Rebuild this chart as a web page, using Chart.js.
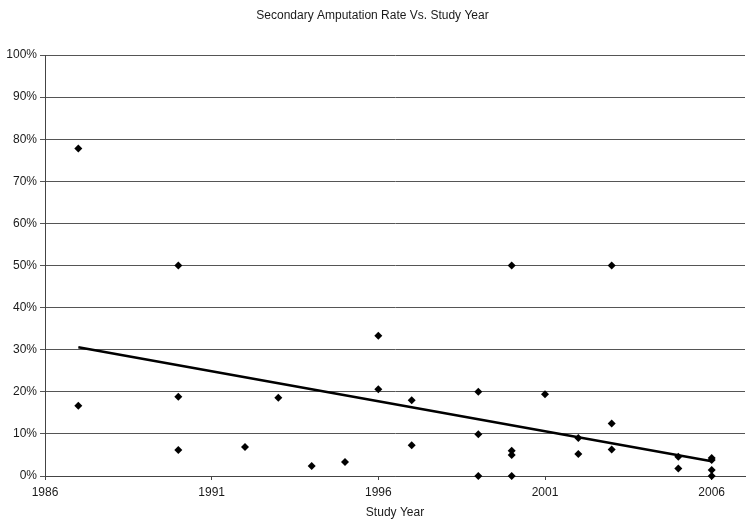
<!DOCTYPE html>
<html>
<head>
<meta charset="utf-8">
<script src="https://cdn.jsdelivr.net/npm/chart.js@4/dist/chart.umd.min.js"></script>
<style>
  html, body { margin: 0; padding: 0; background: #fff; }
  #wrap { width: 755px; height: 522px; }
</style>
</head>
<body>
<div id="wrap"><canvas id="c" width="755" height="522"></canvas></div>
<script>
// Study data: year and secondary amputation rate (%)
const studyYears = [1987, 1987, 1990, 1990, 1990, 1992, 1993, 1994, 1995, 1996, 1996,
                    1997, 1997, 1999, 1999, 1999, 2000, 2000, 2000, 2000, 2001,
                    2002, 2002, 2003, 2003, 2003, 2005, 2005, 2006, 2006, 2006, 2006];
const amputationRates = [77.8, 16.7, 50.0, 18.8, 6.2, 6.9, 18.6, 2.4, 3.3, 33.3, 20.6,
                         18.0, 7.3, 20.0, 9.9, 0.0, 50.0, 6.0, 5.0, 0.0, 19.4,
                         9.0, 5.2, 50.0, 12.5, 6.3, 4.6, 1.8, 4.3, 3.8, 1.4, 0.0];
// Linear trend line endpoints
const trendYears = [1987, 2006];
const trendRates = [30.6, 3.5];
// Axis ticks
const xTickValues = [1986, 1991, 1996, 2001, 2006];
const yTickValues = [0, 10, 20, 30, 40, 50, 60, 70, 80, 90, 100];

const points = studyYears.map((y, i) => ({ x: y, y: amputationRates[i] }));
const trend = trendYears.map((y, i) => ({ x: y, y: trendRates[i] }));

const FONT = "'Liberation Sans', Arial, Helvetica, sans-serif";
const TXT = '#1a1a1a';

new Chart(document.getElementById('c'), {
  type: 'scatter',
  data: {
    datasets: [
      {
        label: 'Rate',
        data: points,
        pointStyle: 'rectRot',
        pointRadius: 4,
        pointBackgroundColor: '#000',
        pointBorderColor: '#000',
        pointBorderWidth: 0,
        showLine: false,
        clip: false,
        order: 1
      },
      {
        label: 'Trend',
        data: trend,
        type: 'line',
        showLine: true,
        borderColor: '#000',
        borderWidth: 2.5,
        pointRadius: 0,
        fill: false,
        clip: false,
        order: 2
      }
    ]
  },
  options: {
    responsive: false,
    animation: false,
    devicePixelRatio: 1,
    layout: { padding: { left: 0, right: 10, top: 0, bottom: 0 } },
    plugins: {
      legend: { display: false },
      tooltip: { enabled: false },
      title: {
        display: true,
        text: 'Secondary Amputation Rate Vs. Study Year',
        color: TXT,
        font: { family: FONT, size: 12, weight: 'normal' },
        padding: { top: 8, bottom: 32.6 }
      }
    },
    scales: {
      x: {
        type: 'linear',
        min: 1986,
        max: 2007,
        afterBuildTicks: (axis) => { axis.ticks = xTickValues.map(v => ({ value: v })); },
        afterFit: (scale) => { scale.height = 46; },
        grid: { drawOnChartArea: false, drawTicks: true, tickLength: 4, color: '#444' },
        border: { color: '#444', width: 1 },
        ticks: {
          color: TXT,
          font: { family: FONT, size: 12 },
          padding: 5,
          maxRotation: 0,
          callback: (v) => String(v)
        },
        title: {
          display: true,
          text: 'Study Year',
          color: TXT,
          font: { family: FONT, size: 12 },
          padding: { top: 0, bottom: 2 }
        }
      },
      y: {
        min: 0,
        max: 100,
        afterBuildTicks: (axis) => { axis.ticks = yTickValues.map(v => ({ value: v })); },
        afterFit: (scale) => { scale.width = 45; },
        grid: { color: '#555', lineWidth: 1, tickLength: 5 },
        border: { color: '#444', width: 1 },
        ticks: {
          color: TXT,
          font: { family: FONT, size: 12 },
          padding: 3,
          callback: (v) => v + '%'
        }
      }
    }
  }
});
</script>
</body>
</html>
